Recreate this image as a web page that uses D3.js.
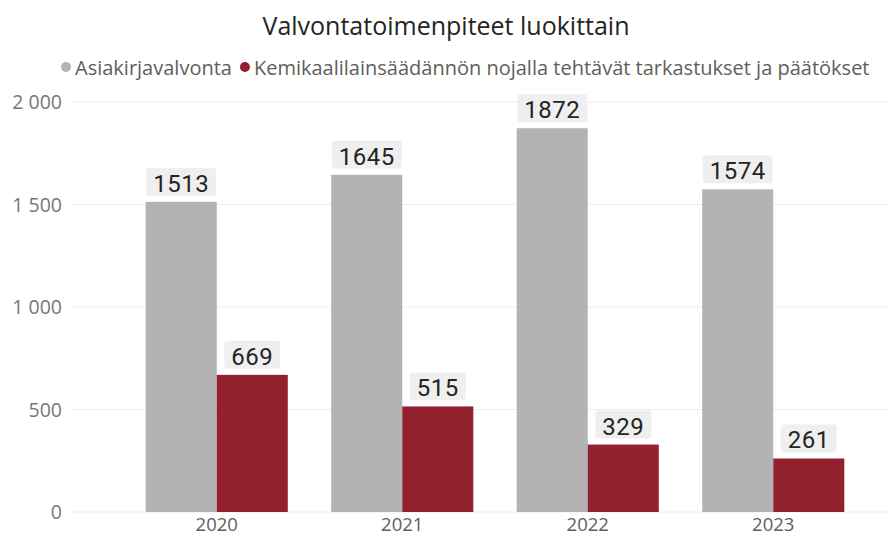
<!DOCTYPE html>
<html>
<head>
<meta charset="utf-8">
<script src="https://cdn.jsdelivr.net/npm/d3@7"></script>
<style>
  body { margin: 0; background: #fff; }
  svg { font-family: "Open Sans", "Noto Sans", sans-serif; }
</style>
</head>
<body>
<svg id="vis" width="889" height="537"></svg>
<script>
const years = ["2020", "2021", "2022", "2023"];
const seriesNames = ["Asiakirjavalvonta", "Kemikaalilainsäädännön nojalla tehtävät tarkastukset ja päätökset"];
const asiakirja = [1513, 1645, 1872, 1574];
const kemikaali = [669, 515, 329, 261];
const yTicks = [0, 500, 1000, 1500, 2000];
const colors = ["#b3b3b3", "#93202e"];

const width = 889, height = 537;
const svg = d3.select("#vis");

const x = d3.scaleBand()
    .domain(years)
    .range([124, 866])
    .paddingInner(0.234)
    .paddingOuter(0.117);

const x1 = d3.scaleBand()
    .domain([0, 1])
    .range([0, x.bandwidth()]);

const y = d3.scaleLinear()
    .domain([0, 2000])
    .range([512, 102]);

// number format with space as thousands separator
const fmt = d => d3.format(",")(d).replace(/,/g, " ");

// title
svg.append("text")
    .attr("x", 446)
    .attr("y", 35)
    .attr("text-anchor", "middle")
    .style("font-size", "25px")
    .style("fill", "#252423")
    .text("Valvontatoimenpiteet luokittain");

// legend
let legend = svg.append("g");
let lx = 66;
seriesNames.forEach(function(name, i) {
    legend.append("circle")
        .attr("cx", lx)
        .attr("cy", 67)
        .attr("r", 5)
        .attr("fill", colors[i]);
    let t = legend.append("text")
        .attr("x", lx + 9)
        .attr("y", 75)
        .style("font-size", "20px")
        .style("fill", "#605e5c")
        .text(name);
    lx += 9 + t.node().getComputedTextLength() + 13;
});

// grid + y axis
let yAxis = svg.append("g");
yAxis.selectAll("line")
    .data(yTicks)
    .enter()
    .append("line")
    .attr("x1", 72)
    .attr("x2", width)
    .attr("y1", d => y(d))
    .attr("y2", d => y(d))
    .attr("stroke", "#ececec")
    .attr("stroke-width", 1);
yAxis.selectAll("text")
    .data(yTicks)
    .enter()
    .append("text")
    .attr("x", 62)
    .attr("y", d => y(d) + 7)
    .attr("text-anchor", "end")
    .style("font-size", "19.5px")
    .style("fill", "#777")
    .text(fmt);

// x axis labels
svg.append("g").selectAll("text")
    .data(years)
    .enter()
    .append("text")
    .attr("x", d => x(d) + x.bandwidth() / 2)
    .attr("y", 531)
    .attr("text-anchor", "middle")
    .style("font-size", "18.5px")
    .style("fill", "#605e5c")
    .text(d => d);

// bars
const rows = [];
years.forEach(function(yr, i) {
    rows.push({year: yr, s: 0, v: asiakirja[i]});
    rows.push({year: yr, s: 1, v: kemikaali[i]});
});

let bars = svg.append("g");
bars.selectAll("rect")
    .data(rows)
    .enter()
    .append("rect")
    .attr("x", d => x(d.year) + x1(d.s))
    .attr("y", d => y(d.v))
    .attr("width", x1.bandwidth())
    .attr("height", d => y(0) - y(d.v))
    .attr("fill", d => colors[d.s]);

// data labels with light box
let labels = svg.append("g");
rows.forEach(function(d) {
    let cx = x(d.year) + x1(d.s) + x1.bandwidth() / 2;
    let g = labels.append("g");
    let box = g.append("rect");
    let t = g.append("text")
        .attr("x", cx)
        .attr("y", y(d.v) - 10)
        .attr("text-anchor", "middle")
        .style("font-family", "Roboto, sans-serif")
        .style("font-size", "24px")
        .style("letter-spacing", "0.5px")
        .style("fill", "#252423")
        .text(d.v);
    let w = t.node().getComputedTextLength() + 14;
    box.attr("x", cx - w / 2)
        .attr("y", y(d.v) - 34)
        .attr("width", w)
        .attr("height", 28)
        .attr("rx", 3)
        .attr("fill", "#efefef");
});
</script>
</body>
</html>
